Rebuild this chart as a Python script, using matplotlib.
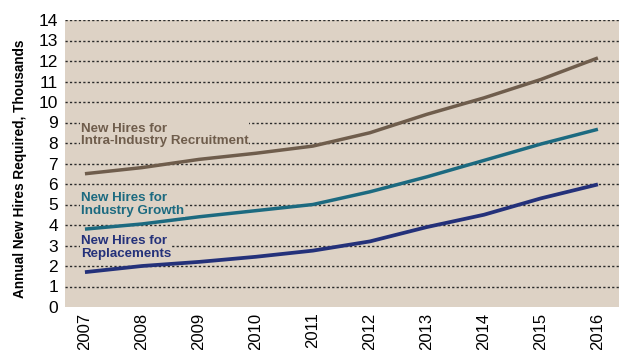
import matplotlib
matplotlib.use("Agg")
import matplotlib.pyplot as plt

years = [2007, 2008, 2009, 2010, 2011, 2012, 2013, 2014, 2015, 2016]
recruitment = [6.5, 6.8, 7.2, 7.5, 7.85, 8.5, 9.4, 10.2, 11.1, 12.15]
growth = [3.8, 4.05, 4.4, 4.7, 5.0, 5.62, 6.35, 7.15, 7.95, 8.67]
replacements = [1.7, 2.0, 2.2, 2.45, 2.75, 3.2, 3.9, 4.5, 5.3, 5.98]
y_ticks = list(range(0, 15))

bg = "#ddd2c5"
c_rec = "#6f5d4c"
c_gro = "#1c6a80"
c_rep = "#24317a"

fig = plt.figure(figsize=(6.19, 3.5), dpi=100)
ax = fig.add_axes([65 / 619, 43 / 350, 554 / 619, 287 / 350])
ax.set_facecolor(bg)

for spine in ax.spines.values():
    spine.set_visible(False)

ax.set_xlim(2007 - 0.35, 2016 + 0.37)
ax.set_ylim(0, 14)
ax.set_yticks(y_ticks)
ax.set_xticks(years)
ax.set_xticklabels([str(y) for y in years], rotation=90, va="top")
ax.tick_params(axis="both", length=0, labelsize=12.5)
ax.tick_params(axis="y", pad=5)
ax.tick_params(axis="x", pad=4)
for lab in ax.get_xticklabels() + ax.get_yticklabels():
    lab.set_fontfamily("Liberation Sans")
for lab in ax.get_xticklabels():
    lab.set_fontsize(12)

for v in y_ticks[1:]:
    ax.axhline(v, color="#2a2a2a", lw=1.0, ls=(0, (1.6, 1.6)), zorder=1)

ax.plot(years, recruitment, color=c_rec, lw=2.5, zorder=3, solid_capstyle="butt")
ax.plot(years, growth, color=c_gro, lw=2.5, zorder=3, solid_capstyle="butt")
ax.plot(years, replacements, color=c_rep, lw=2.7, zorder=3, solid_capstyle="butt")

label_font = dict(family="Liberation Sans", weight="bold", fontsize=9.6,
                  linespacing=1.05, ha="left", va="top", zorder=4,
                  bbox=dict(facecolor=bg, edgecolor="none", pad=0.5))
ax.text(2006.93, 9.0, "New Hires for\nIntra-Industry Recruitment", color=c_rec, **label_font)
ax.text(2006.93, 5.6, "New Hires for\nIndustry Growth", color=c_gro, **label_font)
ax.text(2006.93, 3.5, "New Hires for\nReplacements", color=c_rep, **label_font)

fig.text(20 / 619, 0.5 + 6 / 350, "Annual New Hires Required, Thousands", rotation=90,
         ha="center", va="center", family="Liberation Sans", weight="bold",
         fontsize=9.8)

fig.savefig("out.png", dpi=100)
